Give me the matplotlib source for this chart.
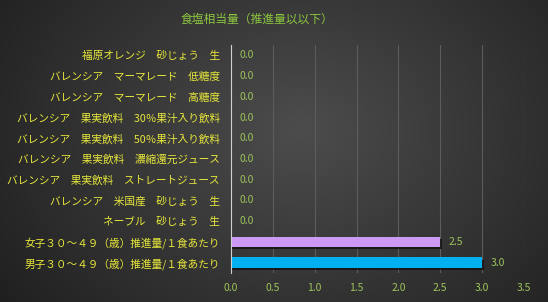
import numpy as np
import matplotlib
matplotlib.use("Agg")
import matplotlib.pyplot as plt
import matplotlib.patheffects as pe

plt.rcParams['font.family'] = ['Noto Sans CJK JP', 'DejaVu Sans']

title = "食塩相当量（推進量以以下）"
categories = [
    "福原オレンジ　砂じょう　生",
    "バレンシア　マーマレード　低糖度",
    "バレンシア　マーマレード　高糖度",
    "バレンシア　果実飲料　30％果汁入り飲料",
    "バレンシア　果実飲料　50％果汁入り飲料",
    "バレンシア　果実飲料　濃縮還元ジュース",
    "バレンシア　果実飲料　ストレートジュース",
    "バレンシア　米国産　砂じょう　生",
    "ネーブル　砂じょう　生",
    "女子３０～４９（歳）推進量/１食あたり",
    "男子３０～４９（歳）推進量/１食あたり",
]
values = [0.0, 0.0, 0.0, 0.0, 0.0, 0.0, 0.0, 0.0, 0.0, 2.5, 3.0]
colors = ["#7f7f7f"] * 9 + ["#cc99f5", "#00b0f0"]
xticks = [0.0, 0.5, 1.0, 1.5, 2.0, 2.5, 3.0, 3.5]

fig = plt.figure(figsize=(5.48, 3.02), dpi=100)

# radial gradient background
bg = fig.add_axes([0, 0, 1, 1], zorder=-10)
yy, xx = np.mgrid[0:302, 0:548]
cx, cy = 300, 130
r = np.sqrt(((xx - cx) / 420.0) ** 2 + ((yy - cy) / 330.0) ** 2)
v = np.clip(0.30 - 0.20 * r, 0.10, 0.30)
img = np.dstack([v, v, v])
bg.imshow(img, aspect='auto', extent=[0, 1, 0, 1])
bg.axis('off')

ax = fig.add_axes([231 / 548, 1 - 273 / 302, (524 - 231) / 548, (273 - 45) / 302])
ax.set_facecolor('none')
y = np.arange(len(categories))
bars = ax.barh(y, values, height=0.5, color=colors, zorder=3)
for b in bars:
    b.set_path_effects([pe.SimplePatchShadow(offset=(1, -1.5), shadow_rgbFace='#111111', alpha=0.8), pe.Normal()])
ax.set_ylim(len(categories) - 0.5, -0.5)
ax.set_xlim(0, 3.5)
ax.set_xticks(xticks)
ax.set_xticklabels([f"{t:.1f}" for t in xticks])
ax.set_yticks(y)
ax.set_yticklabels(categories)
ax.tick_params(axis='y', length=0, pad=8, labelsize=7.7, labelcolor='#e8e83c')
ax.tick_params(axis='x', length=0, pad=7, labelsize=7.5, labelcolor='#9cc45a')
ax.grid(axis='x', color='#5c5c5c', linewidth=0.8, zorder=0)
for s in ['top', 'right', 'bottom']:
    ax.spines[s].set_visible(False)
ax.spines['left'].set_color('#d0d0d0')
ax.spines['left'].set_linewidth(0.8)
ax.spines['left'].set_zorder(4)

for yi, val in zip(y, values):
    ax.text(val + 0.1, yi, f"{val:.1f}", va='center', ha='left', fontsize=7.5, color='#9cc45a', zorder=5)

fig.text(257 / 548, 1 - 19 / 302, title, ha='center', va='center', fontsize=8.5, color='#8cc63f')

fig.savefig("out.png", dpi=100)
